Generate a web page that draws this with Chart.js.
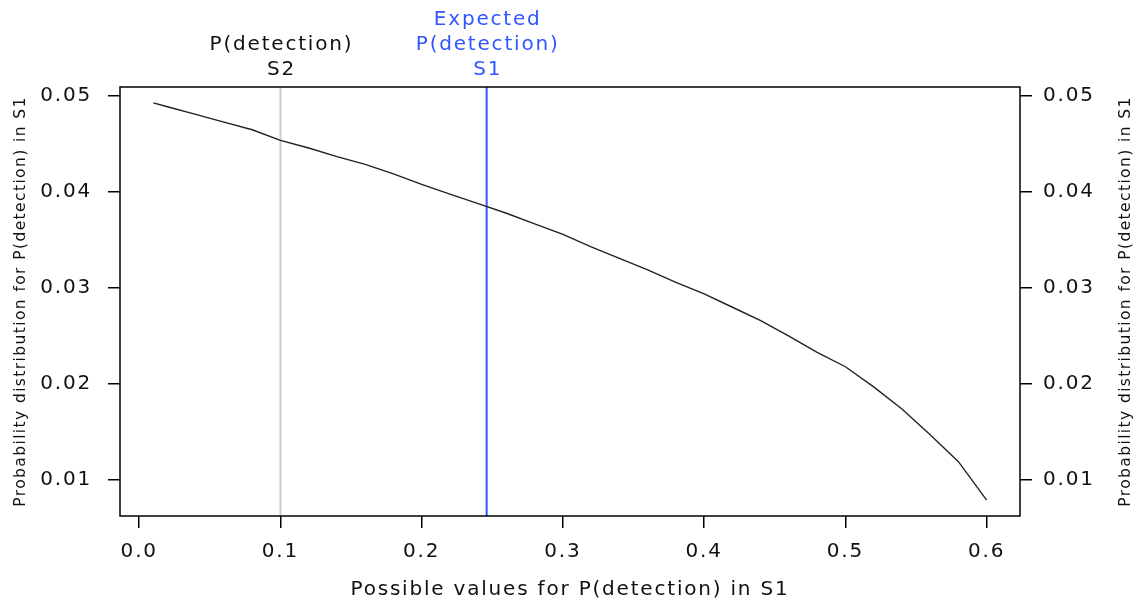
<!DOCTYPE html>
<html>
<head>
<meta charset="utf-8">
<script src="https://cdn.jsdelivr.net/npm/chart.js@4"></script>
<style>
  html, body { margin: 0; padding: 0; background: #fff; }
  #wrap { width: 1138px; height: 605px; }
</style>
</head>
<body>
<div id="wrap"><canvas id="probChart"></canvas></div>
<script>
// possible values for P(detection) in S1 and their probability
const pValues = [0.01, 0.02, 0.04, 0.06, 0.08, 0.10, 0.12, 0.14, 0.16, 0.18, 0.20,
  0.22, 0.24, 0.26, 0.28, 0.30, 0.32, 0.34, 0.36, 0.38, 0.40,
  0.42, 0.44, 0.46, 0.48, 0.50, 0.52, 0.54, 0.56, 0.58, 0.60];
const probS1 = [0.0493, 0.0489, 0.0481, 0.0473, 0.0465, 0.0454, 0.0446, 0.0437, 0.0429, 0.0419, 0.0408,
  0.0398, 0.0388, 0.0378, 0.0367, 0.0356, 0.0343, 0.0331, 0.0319, 0.0306, 0.0294,
  0.0280, 0.0266, 0.0250, 0.0233, 0.0218, 0.0197, 0.0174, 0.0147, 0.0119, 0.0079];

const detectionS2 = 0.1;
const expectedS1 = 0.246;

const xTicks = [0.0, 0.1, 0.2, 0.3, 0.4, 0.5, 0.6];
const yTicks = [0.01, 0.02, 0.03, 0.04, 0.05];

const xMin = -0.0136, xMax = 0.6236;
const yMin = 0.00624, yMax = 0.05096;

const tickFont = { family: 'DejaVu Sans', size: 20 };
const yTitle = 'Probability distribution for P(detection) in S1';

const spacingPlugin = {
  id: 'spacing',
  beforeUpdate(chart) { chart.ctx.letterSpacing = '1.8px'; },
  beforeDraw(chart) { chart.ctx.letterSpacing = '1.8px'; }
};

const framePlugin = {
  id: 'frame',
  afterDraw(chart) {
    const { ctx, chartArea: a, scales } = chart;
    ctx.save();
    ctx.strokeStyle = '#000';
    ctx.lineWidth = 1.5;
    ctx.strokeRect(a.left, a.top, a.right - a.left, a.bottom - a.top);

    // labels above the reference lines
    ctx.font = '20px "DejaVu Sans"';
    ctx.textAlign = 'center';
    ctx.textBaseline = 'middle';
    const xs2 = scales.x.getPixelForValue(detectionS2) + 1;
    ctx.fillStyle = '#111';
    ctx.fillText('P(detection)', xs2, 45);
    ctx.fillText('S2', xs2, 70);
    const xs1 = scales.x.getPixelForValue(expectedS1) + 1;
    ctx.fillStyle = '#3355ff';
    ctx.fillText('Expected', xs1, 20);
    ctx.fillText('P(detection)', xs1, 45);
    ctx.fillText('S1', xs1, 70);

    // rotated y titles on both sides
    ctx.fillStyle = '#111';
    ctx.font = '15.5px "DejaVu Sans"';
    ctx.letterSpacing = '1.4px';
    const midY = (a.top + a.bottom) / 2;
    [21, 1126].forEach(x => {
      ctx.save();
      ctx.translate(x, midY);
      ctx.rotate(-Math.PI / 2);
      ctx.fillText(yTitle, 0, 0);
      ctx.restore();
    });
    ctx.restore();
  }
};

const setTicks = list => scale => { scale.ticks = list.map(v => ({ value: v })); };

const chart = new Chart(document.getElementById('probChart').getContext('2d'), {
  type: 'line',
  data: {
    datasets: [{
      label: 'P(detection) S1',
      data: pValues.map((p, i) => ({ x: p, y: probS1[i] })),
      borderColor: '#222',
      borderWidth: 1.4,
      pointRadius: 0,
      tension: 0
    }, {
      label: 'P(detection) S2',
      data: [{ x: detectionS2, y: yMin }, { x: detectionS2, y: yMax }],
      borderColor: '#cccccc',
      borderWidth: 2,
      pointRadius: 0
    }, {
      label: 'Expected P(detection) S1',
      data: [{ x: expectedS1, y: yMin }, { x: expectedS1, y: yMax }],
      borderColor: '#3355ff',
      borderWidth: 2,
      pointRadius: 0
    }]
  },
  options: {
    responsive: true,
    maintainAspectRatio: false,
    animation: false,
    layout: { padding: { top: 87, left: 0, right: 0, bottom: 0 } },
    plugins: {
      legend: { display: false },
      tooltip: { enabled: false }
    },
    scales: {
      x: {
        type: 'linear',
        min: xMin,
        max: xMax,
        afterBuildTicks: setTicks(xTicks),
        afterFit(scale) { scale.height = 89; },
        grid: { drawOnChartArea: false, tickLength: 12, color: '#000', lineWidth: 1.5 },
        border: { display: false },
        ticks: {
          color: '#111',
          font: tickFont,
          padding: 12,
          maxRotation: 0,
          callback: v => v.toFixed(1)
        },
        title: {
          display: true,
          text: 'Possible values for P(detection) in S1',
          color: '#111',
          font: tickFont,
          padding: { top: 0, bottom: 3 }
        }
      },
      y: {
        type: 'linear',
        position: 'left',
        min: yMin,
        max: yMax,
        afterBuildTicks: setTicks(yTicks),
        afterFit(scale) { scale.width = 120; },
        grid: { drawOnChartArea: false, tickLength: 12, color: '#000', lineWidth: 1.5 },
        border: { display: false },
        ticks: { color: '#111', font: tickFont, padding: 16, callback: v => v.toFixed(2) }
      },
      y2: {
        type: 'linear',
        position: 'right',
        min: yMin,
        max: yMax,
        afterBuildTicks: setTicks(yTicks),
        afterFit(scale) { scale.width = 118; },
        grid: { drawOnChartArea: false, tickLength: 12, color: '#000', lineWidth: 1.5 },
        border: { display: false },
        ticks: { color: '#111', font: tickFont, padding: 11, callback: v => v.toFixed(2) }
      }
    }
  },
  plugins: [spacingPlugin, framePlugin]
});
</script>
</body>
</html>
